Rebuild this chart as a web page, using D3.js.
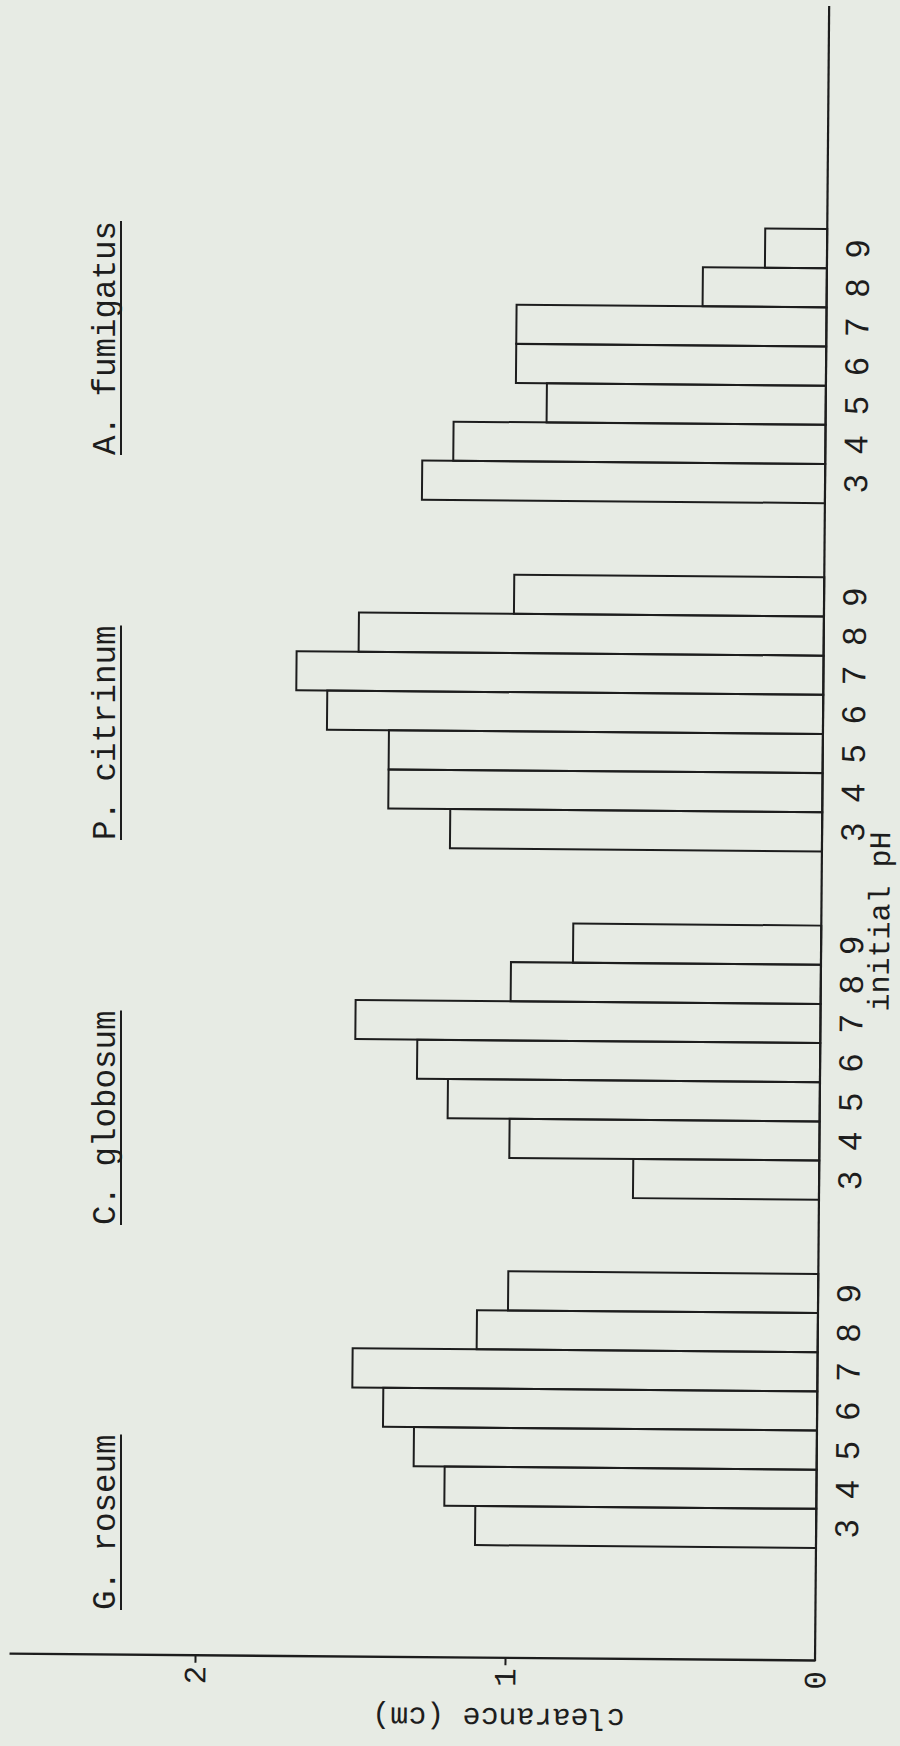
<!DOCTYPE html>
<html>
<head>
<meta charset="utf-8">
<script src="https://cdn.jsdelivr.net/npm/d3@7"></script>
<style>
  html, body { margin: 0; padding: 0; background: #e7ebe4; }
  svg { display: block; }
</style>
</head>
<body>
<script>
// ---- data ----
const species = ["G. roseum", "C. globosum", "P. citrinum", "A. fumigatus"];
const phLevels = ["3", "4", "5", "6", "7", "8", "9"];
const gRoseum    = [1.1, 1.2, 1.3, 1.4, 1.5, 1.1, 1.0];
const cGlobosum  = [0.6, 1.0, 1.2, 1.3, 1.5, 1.0, 0.8];
const pCitrinum  = [1.2, 1.4, 1.4, 1.6, 1.7, 1.5, 1.0];
const aFumigatus = [1.3, 1.2, 0.9, 1.0, 1.0, 0.4, 0.2];
const yTicks = [0, 1, 2];
const yTitle = "clearance (cm)";
const xTitle = "initial pH";

const seriesValues = [gRoseum, cGlobosum, pCitrinum, aFumigatus];

// ---- layout ----
const W = 900, H = 1746;
const ink = "#1d1d1d";
const mono = "'Liberation Mono', 'DejaVu Sans Mono', monospace";
const sans = "'Liberation Sans', 'DejaVu Sans', sans-serif";

const svg = d3.select("body").append("svg")
  .attr("width", W).attr("height", H);
svg.append("rect").attr("width", W).attr("height", H).attr("fill", "#e7ebe4");

// The chart is drawn in its native (upright) orientation and the page is turned.
const chart = svg.append("g")
  .attr("transform", "translate(815,1661) rotate(-89.51)");

const x0 = d3.scaleBand().domain(species).range([113, 1432]).paddingInner(0.213).paddingOuter(0);
const x1 = d3.scaleBand().domain(phLevels).range([0, x0.bandwidth()]).padding(0);
const y = d3.scaleLinear().domain([0, 2.6]).range([0, -806]);

// bars
const barData = [];
species.forEach((s, gi) => {
  phLevels.forEach((ph, i) => barData.push({ s, ph, v: seriesValues[gi][i] }));
});
chart.append("g").selectAll("rect").data(barData).join("rect")
  .attr("x", d => x0(d.s) + x1(d.ph))
  .attr("y", d => y(d.v))
  .attr("width", x1.bandwidth())
  .attr("height", d => y(0) - y(d.v))
  .attr("fill", "none")
  .attr("stroke", ink)
  .attr("stroke-width", 2);

// baseline (pH axis)
chart.append("line")
  .attr("x1", 0).attr("x2", 1655).attr("y1", y(0)).attr("y2", y(0))
  .attr("stroke", ink).attr("stroke-width", 2.2);

// value axis
const yAxis = chart.append("g")
  .call(d3.axisLeft(y).tickValues(yTicks).tickFormat(d3.format("d"))
        .tickSize(7).tickSizeOuter(0).tickPadding(3));
yAxis.select(".domain").attr("stroke", ink).attr("stroke-width", 2.4);
yAxis.selectAll(".tick line").attr("stroke", ink).attr("stroke-width", 2)
  .filter(d => d === 0).remove();
yAxis.selectAll(".tick text")
  .attr("font-family", mono).attr("font-size", 31).attr("fill", ink);

// value axis title
chart.append("text")
  .attr("transform", `translate(-50,${y(1.02)}) rotate(-90)`)
  .attr("text-anchor", "middle")
  .attr("font-family", mono).attr("font-size", 30).attr("fill", ink)
  .text(yTitle);

// pH labels under each bar
chart.append("g").selectAll("text").data(barData).join("text")
  .attr("x", d => x0(d.s) + x1(d.ph) + x1.bandwidth() / 2)
  .attr("y", 42)
  .attr("text-anchor", "middle")
  .attr("font-family", sans).attr("font-size", 33).attr("fill", ink)
  .text(d => d.ph);

// x title
chart.append("text")
  .attr("x", 740).attr("y", 68)
  .attr("text-anchor", "middle")
  .attr("font-family", mono).attr("font-size", 30).attr("fill", ink)
  .text(xTitle);

// species labels (typed at regular spacing along the top)
const labels = svg.append("g").attr("transform", `translate(0,${H}) rotate(-90)`);
const labelPos = d3.scaleBand().domain(species).range([136, 136 + 4 * 385]);
species.forEach(s => {
  const t = labels.append("text")
    .attr("x", labelPos(s)).attr("y", 115)
    .attr("font-family", mono).attr("font-size", 32.5).attr("fill", ink)
    .text(s);
  const len = t.node().getComputedTextLength();
  labels.append("line")
    .attr("x1", labelPos(s)).attr("x2", labelPos(s) + len)
    .attr("y1", 121).attr("y2", 121)
    .attr("stroke", ink).attr("stroke-width", 2);
});
</script>
</body>
</html>
